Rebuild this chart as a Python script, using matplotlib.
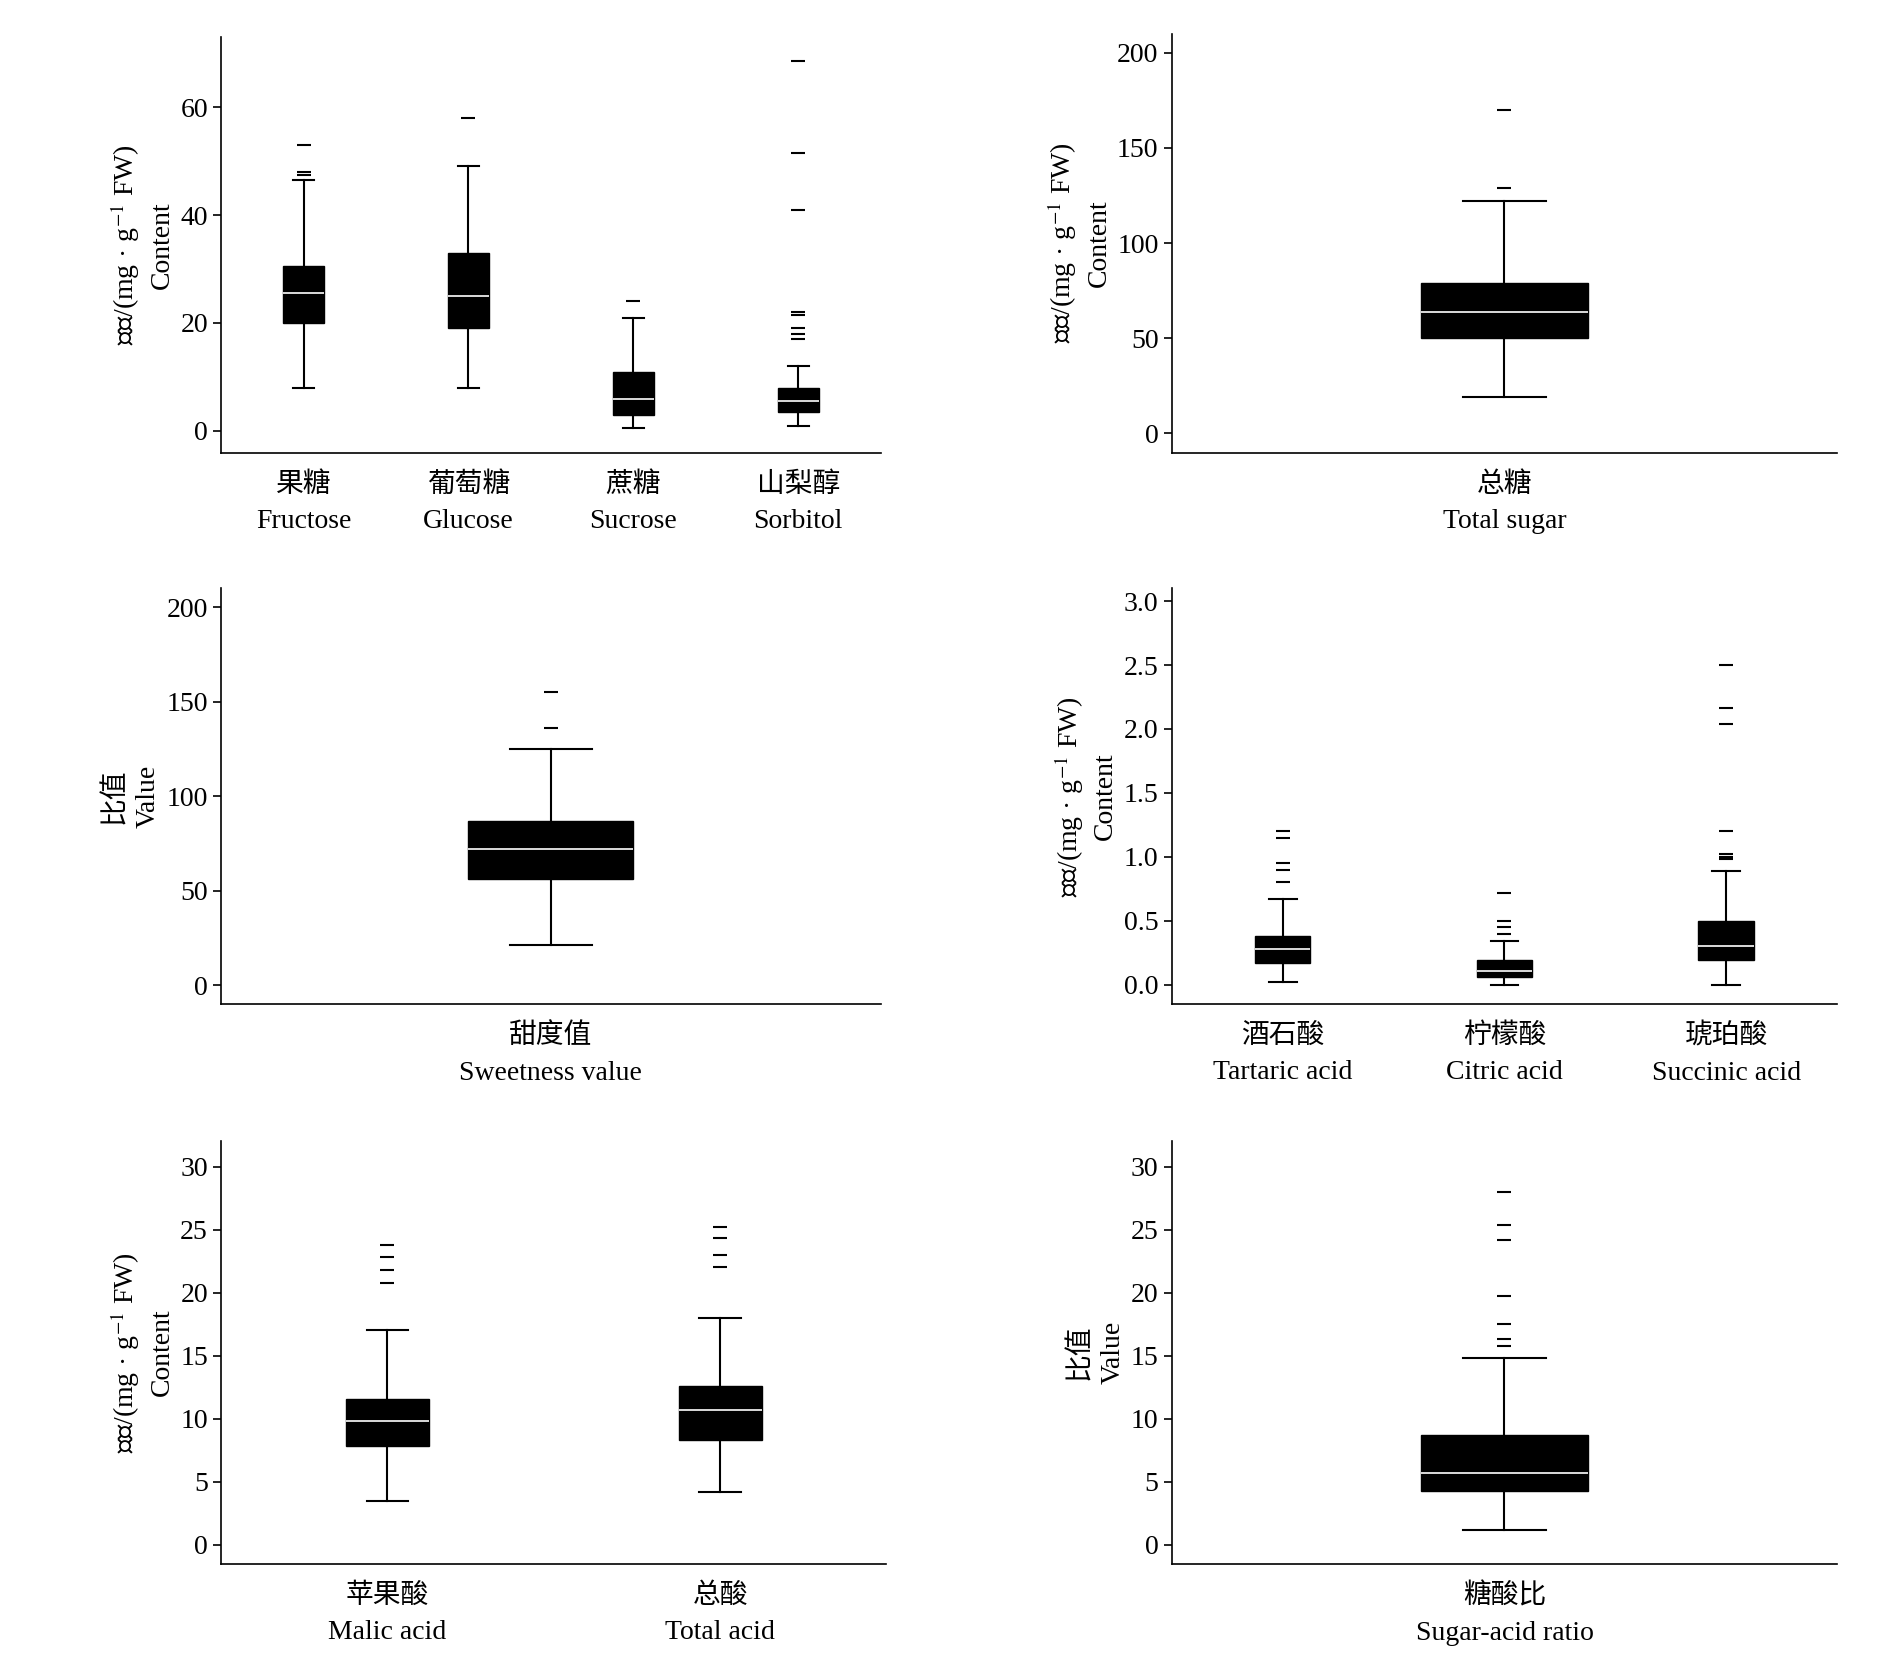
import matplotlib
matplotlib.use("Agg")
import matplotlib.pyplot as plt

plt.rcParams['font.family'] = ['Liberation Serif', 'Noto Sans CJK SC']
plt.rcParams['mathtext.fontset'] = 'stix'

# (whislo, q1, med, q3, whishi, fliers)
sugar_labels = ["果糖\nFructose", "葡萄糖\nGlucose", "蔗糖\nSucrose", "山梨醇\nSorbitol"]
sugar_stats = [
    (8, 20, 25.5, 30.5, 46.5, [47.5, 48, 53]),
    (8, 19, 25, 33, 49, [58]),
    (0.5, 3, 6, 11, 21, [24]),
    (1, 3.5, 5.5, 8, 12, [17, 18, 19, 21.5, 22, 41, 51.5, 68.5]),
]
total_labels = ["总糖\nTotal sugar"]
total_stats = [(19, 50, 64, 79, 122, [129, 170])]
sweet_labels = ["甜度值\nSweetness value"]
sweet_stats = [(21, 56, 72, 87, 125, [136, 155])]
acid_labels = ["酒石酸\nTartaric acid", "柠檬酸\nCitric acid", "琥珀酸\nSuccinic acid"]
acid_stats = [
    (0.02, 0.17, 0.28, 0.38, 0.67, [0.8, 0.9, 0.95, 1.15, 1.2]),
    (0.0, 0.06, 0.11, 0.19, 0.34, [0.4, 0.45, 0.5, 0.72]),
    (0.0, 0.19, 0.3, 0.5, 0.89, [0.98, 1.0, 1.02, 1.2, 2.04, 2.16, 2.5]),
]
malic_labels = ["苹果酸\nMalic acid", "总酸\nTotal acid"]
malic_stats = [
    (3.5, 7.8, 9.8, 11.6, 17, [20.8, 21.8, 22.8, 23.8]),
    (4.2, 8.3, 10.7, 12.6, 18, [22, 23, 24.3, 25.2]),
]
ratio_labels = ["糖酸比\nSugar-acid ratio"]
ratio_stats = [(1.2, 4.3, 5.7, 8.7, 14.8, [15.8, 16.3, 17.5, 19.7, 24.2, 25.4, 28])]

content = "含量/(mg · g$^{-1}$ FW)\nContent"
value = "比值\nValue"


def panel(rect, labels, stats, ylim, yticks, ylabel, width, fmt="{:g}"):
    ax = fig.add_axes(rect)
    data = [dict(whislo=s[0], q1=s[1], med=s[2], q3=s[3], whishi=s[4],
                 fliers=s[5]) for s in stats]
    ax.bxp(data, widths=width, patch_artist=True,
           boxprops=dict(facecolor="black", edgecolor="black"),
           medianprops=dict(color="white", lw=1.2),
           whiskerprops=dict(color="black", lw=1.5),
           capprops=dict(color="black", lw=1.5),
           flierprops=dict(marker="_", markersize=10, markeredgecolor="black",
                           markeredgewidth=1.5))
    ax.set_xlim(0.5, len(stats) + 0.5)
    ax.set_ylim(ylim)
    ax.set_yticks(yticks)
    ax.set_yticklabels([fmt.format(t) for t in yticks])
    ax.set_xticks(range(1, len(stats) + 1))
    ax.set_xticklabels(labels, fontsize=20, linespacing=1.6)
    ax.tick_params(axis="x", length=0, pad=14)
    ax.tick_params(axis="y", labelsize=20, length=6, width=1.2)
    for s in ("top", "right"):
        ax.spines[s].set_visible(False)
    for s in ("left", "bottom"):
        ax.spines[s].set_linewidth(1.2)
    ax.set_ylabel(ylabel, fontsize=20, linespacing=1.4)
    return ax


fig = plt.figure(figsize=(18.9, 16.76), dpi=100)
panel([0.117, 0.730, 0.349, 0.248], sugar_labels, sugar_stats, (-4, 73),
      [0, 20, 40, 60], content, 0.25)
panel([0.620, 0.730, 0.352, 0.250], total_labels, total_stats, (-10, 210),
      [0, 50, 100, 150, 200], content, 0.25)
panel([0.117, 0.401, 0.349, 0.248], sweet_labels, sweet_stats, (-10, 210),
      [0, 50, 100, 150, 200], value, 0.25)
panel([0.620, 0.401, 0.352, 0.248], acid_labels, acid_stats, (-0.15, 3.1),
      [0, 0.5, 1.0, 1.5, 2.0, 2.5, 3.0], content, 0.25, fmt="{:.1f}")
panel([0.117, 0.067, 0.352, 0.252], malic_labels, malic_stats, (-1.5, 32),
      [0, 5, 10, 15, 20, 25, 30], content, 0.25)
panel([0.620, 0.067, 0.352, 0.252], ratio_labels, ratio_stats, (-1.5, 32),
      [0, 5, 10, 15, 20, 25, 30], value, 0.25)

fig.savefig("out.png", dpi=100)
